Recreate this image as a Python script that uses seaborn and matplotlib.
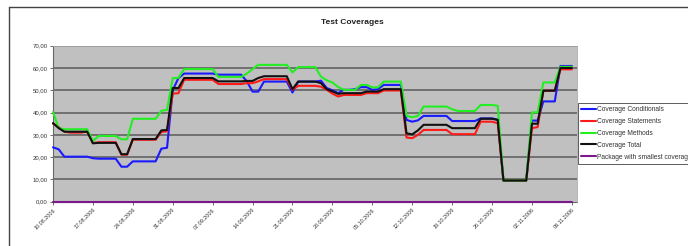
import matplotlib
matplotlib.use("Agg")
import matplotlib.pyplot as plt
from matplotlib.lines import Line2D
import seaborn as sns
import pandas as pd

# ---- data (daily values, 10.08.2006 .. 09.11.2006) ----
cov_conditionals = [
    24.4, 23.5, 20.2, 20.2, 20.2, 20.2, 20.2, 19.5, 19.3, 19.3,
    19.3, 19.3, 15.7, 15.7, 18.1, 18.1, 18.1, 18.1, 18.1, 23.8,
    24.2, 50.0, 55.5, 57.5, 57.5, 57.5, 57.5, 57.5, 57.5, 57.0,
    57.0, 57.0, 57.0, 57.0, 54.0, 49.4, 49.4, 53.9, 53.9, 53.9,
    53.9, 53.9, 49.0, 53.9, 53.9, 53.9, 53.9, 54.3, 51.0, 50.0,
    48.7, 50.2, 50.2, 50.5, 51.4, 51.4, 50.2, 50.5, 52.4, 52.4,
    52.4, 52.4, 36.7, 35.9, 36.5, 38.5, 38.5, 38.5, 38.5, 38.5,
    36.2, 36.2, 36.2, 36.2, 36.2, 37.4, 37.4, 37.4, 36.8, 9.5,
    9.5, 9.5, 9.5, 9.5, 36.4, 36.4, 45.0, 45.0, 45.0, 60.9,
    60.9, 60.9,
]
cov_statements = [
    35.0, 33.5, 31.5, 31.0, 31.0, 31.0, 31.5, 26.3, 26.7, 26.7,
    26.7, 26.7, 21.1, 21.1, 27.8, 27.8, 27.8, 27.8, 27.8, 31.3,
    31.6, 48.5, 48.7, 54.7, 54.7, 54.7, 54.7, 54.7, 54.7, 52.8,
    52.8, 52.8, 52.8, 52.8, 53.2, 53.2, 54.0, 55.0, 55.0, 55.0,
    55.0, 55.0, 50.2, 52.0, 52.0, 52.0, 52.0, 51.6, 50.2, 48.5,
    47.2, 47.9, 47.9, 47.9, 47.9, 48.7, 48.7, 48.7, 49.9, 49.9,
    49.9, 49.9, 28.8, 28.5, 30.0, 32.2, 32.2, 32.2, 32.2, 32.2,
    30.3, 30.3, 30.3, 30.3, 30.3, 35.9, 35.9, 35.9, 35.2, 9.5,
    9.5, 9.5, 9.5, 9.5, 33.0, 33.5, 49.8, 49.8, 49.8, 59.4,
    59.4, 59.4,
]
cov_methods = [
    40.2, 33.0, 32.5, 32.5, 32.5, 32.5, 32.5, 27.2, 29.5, 29.5,
    29.5, 29.5, 28.0, 28.0, 37.2, 37.2, 37.2, 37.2, 37.2, 40.8,
    41.2, 55.4, 55.6, 59.5, 59.5, 59.5, 59.5, 59.5, 59.5, 56.0,
    56.0, 56.0, 56.0, 56.0, 57.5, 59.5, 61.4, 61.4, 61.4, 61.4,
    61.4, 61.4, 58.0, 60.4, 60.4, 60.4, 60.4, 56.1, 54.5, 53.5,
    51.5, 50.2, 50.2, 50.2, 52.4, 52.4, 51.3, 51.3, 53.9, 53.9,
    53.9, 53.9, 38.5, 37.9, 38.5, 42.7, 42.7, 42.7, 42.7, 42.7,
    41.5, 40.7, 40.7, 40.7, 40.7, 43.4, 43.4, 43.4, 43.0, 9.5,
    9.5, 9.5, 9.5, 9.5, 40.1, 40.1, 53.5, 53.5, 53.5, 60.5,
    60.5, 60.5,
]
cov_total = [
    35.3, 33.0, 31.4, 31.4, 31.4, 31.4, 31.4, 26.2, 26.4, 26.4,
    26.4, 26.4, 21.3, 21.3, 28.1, 28.1, 28.1, 28.1, 28.1, 32.0,
    32.2, 51.0, 51.0, 55.5, 55.5, 55.5, 55.5, 55.5, 55.5, 54.0,
    54.0, 54.0, 54.0, 54.0, 54.2, 54.2, 55.5, 56.3, 56.3, 56.3,
    56.3, 56.3, 50.5, 53.9, 53.9, 53.9, 53.9, 53.2, 50.5, 49.5,
    48.4, 48.7, 48.7, 48.7, 48.7, 49.4, 49.4, 49.4, 50.5, 50.5,
    50.5, 50.5, 30.7, 30.2, 32.0, 34.5, 34.5, 34.5, 34.5, 34.5,
    33.0, 33.0, 33.0, 33.0, 33.0, 37.2, 37.2, 37.2, 36.7, 9.5,
    9.5, 9.5, 9.5, 9.5, 35.0, 35.0, 49.8, 49.8, 49.8, 60.0,
    60.0, 60.0,
]
smallest_package = [
    0, 0, 0, 0, 0, 0, 0, 0, 0, 0, 0, 0, 0, 0, 0, 0, 0, 0, 0, 0,
    0, 0, 0, 0, 0, 0, 0, 0, 0, 0, 0, 0, 0, 0, 0, 0, 0, 0, 0, 0,
    0, 0, 0, 0, 0, 0, 0, 0, 0, 0, 0, 0, 0, 0, 0, 0, 0, 0, 0, 0,
    0, 0, 0, 0, 0, 0, 0, 0, 0, 0, 0, 0, 0, 0, 0, 0, 0, 0, 0, 0,
    0, 0, 0, 0, 0, 0, 0, 0, 0, 0, 0, 0,
]
series_names = ["Coverage Conditionals", "Coverage Statements", "Coverage Methods",
                "Coverage Total", "Package with smallest coverage"]
tick_labels = ["10.08.2006", "17.08.2006", "24.08.2006", "31.08.2006", "07.09.2006",
               "14.09.2006", "21.09.2006", "28.09.2006", "05.10.2006", "12.10.2006",
               "19.10.2006", "26.10.2006", "02.11.2006", "09.11.2006"]
y_ticks = [0, 10, 20, 30, 40, 50, 60, 70]

# ---- build long table ----
all_series = [cov_conditionals, cov_statements, cov_methods, cov_total, smallest_package]
rows = []
for name, vals in zip(series_names, all_series):
    for d, v in enumerate(vals):
        rows.append({"day": d, "value": v, "series": name})
df = pd.DataFrame(rows)

colors = {"Coverage Conditionals": "#1a1aff", "Coverage Statements": "#ff1a1a",
          "Coverage Methods": "#22ee22", "Coverage Total": "#111111",
          "Package with smallest coverage": "#7a1a8a"}

sns.set_theme(style="white")
plt.rcParams["font.family"] = ["Liberation Sans", "DejaVu Sans"]

fig = plt.figure(figsize=(6.88, 2.46), dpi=100)
fig.patch.set_facecolor("white")
ax = fig.add_axes([53 / 688, 1 - 201.7 / 246, 524 / 688, 156 / 246])
ax.set_facecolor("#c0c0c0")

sns.lineplot(data=df, x="day", y="value", hue="series", palette=colors,
             hue_order=series_names, linewidth=1.5, ax=ax, legend=False)
for ln in ax.lines:
    ln.set_clip_on(False)
    ln.set_zorder(4)

ax.set_xlim(0, 91.9)
ax.set_ylim(0, 70)
ax.set_yticks(y_ticks)
ax.set_yticklabels([f"{v:.2f}".replace(".", ",") for v in y_ticks], fontsize=4.3, color="#333333")
ax.set_xticks(list(range(0, 7 * len(tick_labels), 7)))
ax.set_xticklabels(tick_labels, rotation=45, ha="right", rotation_mode="anchor",
                   fontsize=3.9, color="#333333")
ax.tick_params(axis="both", which="both", length=2.5, width=0.6, color="#555555",
               direction="out", pad=1.5, bottom=True, left=True)
ax.set_xlabel("")
ax.set_ylabel("")
for y in y_ticks[1:]:
    ax.axhline(y, color="#6a6a6a", linewidth=1.3, zorder=0.5)
for side in ["top", "right"]:
    ax.spines[side].set_visible(True)
    ax.spines[side].set_color("#a8a8a8")
    ax.spines[side].set_linewidth(0.6)
for side in ["left", "bottom"]:
    ax.spines[side].set_color("#666666")
    ax.spines[side].set_linewidth(0.8)
    ax.spines[side].set_zorder(2)

fig.text(352 / 688, 1 - 22 / 246, "Test Coverages", ha="center", va="center",
         fontsize=6, fontweight="bold", color="#222222")

handles = [Line2D([0], [0], color=colors[n], linewidth=1.5) for n in series_names]
leg = fig.legend(handles, series_names, loc="upper left",
                 bbox_to_anchor=(578 / 688, 1 - 103 / 246), frameon=True, fancybox=False,
                 fontsize=4.8, handlelength=2.2, handletextpad=0.2, labelspacing=0.72,
                 borderpad=0.5, borderaxespad=0)
leg.get_frame().set_edgecolor("#333333")
leg.get_frame().set_linewidth(0.7)
for t in leg.get_texts():
    t.set_color("#333333")

# chart area frame
fig.add_artist(Line2D([9 / 688, 1.0], [1 - 7 / 246, 1 - 7 / 246], color="#444444", linewidth=1.0,
                      transform=fig.transFigure))
fig.add_artist(Line2D([9 / 688, 9 / 688], [1 - 7 / 246, 0.0], color="#444444", linewidth=1.0,
                      transform=fig.transFigure))

fig.savefig("out.png", dpi=100)
